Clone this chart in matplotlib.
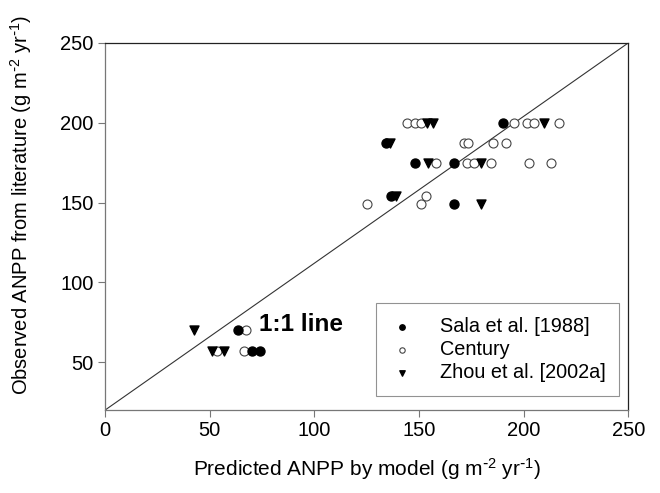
import matplotlib

matplotlib.use("Agg")
import matplotlib.pyplot as plt

plt.rcParams["font.family"] = ["Liberation Sans", "DejaVu Sans"]
plt.rcParams["mathtext.default"] = "regular"

# Sala et al. [1988]
sala_x = [63.4, 70.2, 74.2, 134.1, 136.5, 148.0, 166.8, 166.8, 190.0]
sala_y = [70, 57, 57, 187, 154, 175, 175, 149, 200]

# Century
century_x = [67.4, 53.5, 66.2, 125.0, 151.2, 153.3, 144.2, 148.0, 150.9,
             195.3, 201.6, 204.8, 217.1, 171.3, 173.2, 185.2, 191.6,
             158.0, 172.9, 176.4, 184.4, 202.7, 213.1]
century_y = [70, 57, 57, 149, 149, 154, 200, 200, 200,
             200, 200, 200, 200, 187, 187, 187, 187,
             175, 175, 175, 175, 175, 175]

# Zhou et al. [2002a]
zhou_x = [42.6, 51.1, 56.7, 136.2, 138.9, 153.7, 156.9, 209.9, 154.1, 179.6, 179.6]
zhou_y = [70, 57, 57, 187, 154, 200, 200, 200, 175, 175, 149]

line_x = [0, 250]
line_y = [20, 250]

fig = plt.figure(figsize=(6.6, 4.93), dpi=100)
ax = fig.add_axes([0.159, 0.168, 0.793, 0.745])

ax.plot(line_x, line_y, color="#333333", lw=0.8, zorder=1)

ms = 42
ax.scatter(century_x, century_y, s=ms, marker="o", facecolor="white",
           edgecolor="#444444", linewidth=0.8, label="Century", zorder=2)
ax.scatter(sala_x, sala_y, s=ms, marker="o", color="black",
           label="Sala et al. [1988]", zorder=3)
ax.scatter(zhou_x, zhou_y, s=ms, marker="v", color="black",
           label="Zhou et al. [2002a]", zorder=3)

ax.text(73.5, 73.5, "1:1 line", fontsize=17.5, fontweight="bold",
        ha="left", va="center")

ax.set_xlim(0, 250)
ax.set_ylim(20, 250)
ax.set_xticks([0, 50, 100, 150, 200, 250])
ax.set_yticks([50, 100, 150, 200, 250])
ax.tick_params(direction="out", length=5, width=0.8, color="#777777",
               labelsize=14.5, pad=3)
for side in ["left", "bottom"]:
    ax.spines[side].set_color("#777777")
for side in ["top", "right"]:
    ax.spines[side].set_color("#222222")
for sp in ax.spines.values():
    sp.set_linewidth(0.9)

unit = r"(g m$^{\text{-}2}$ yr$^{\text{-}1}$)"
ax.set_xlabel("Predicted ANPP by model " + unit, fontsize=15)
ax.set_ylabel("Observed ANPP from literature " + unit, fontsize=14.5)
ax.xaxis.set_label_coords(0.5, -0.125)
ax.yaxis.set_label_coords(-0.135, 0.56)

handles, labels = ax.get_legend_handles_labels()
order = [1, 0, 2]
leg = ax.legend([handles[i] for i in order], [labels[i] for i in order],
                loc="lower right", bbox_to_anchor=(0.983, 0.038),
                fontsize=14.3, markerscale=0.6, frameon=True, fancybox=False,
                edgecolor="#777777", handlelength=1.2, handletextpad=1.3,
                borderpad=0.7, labelspacing=0.2, borderaxespad=0)
leg.get_frame().set_linewidth(0.8)

fig.savefig("out.png", dpi=100)
